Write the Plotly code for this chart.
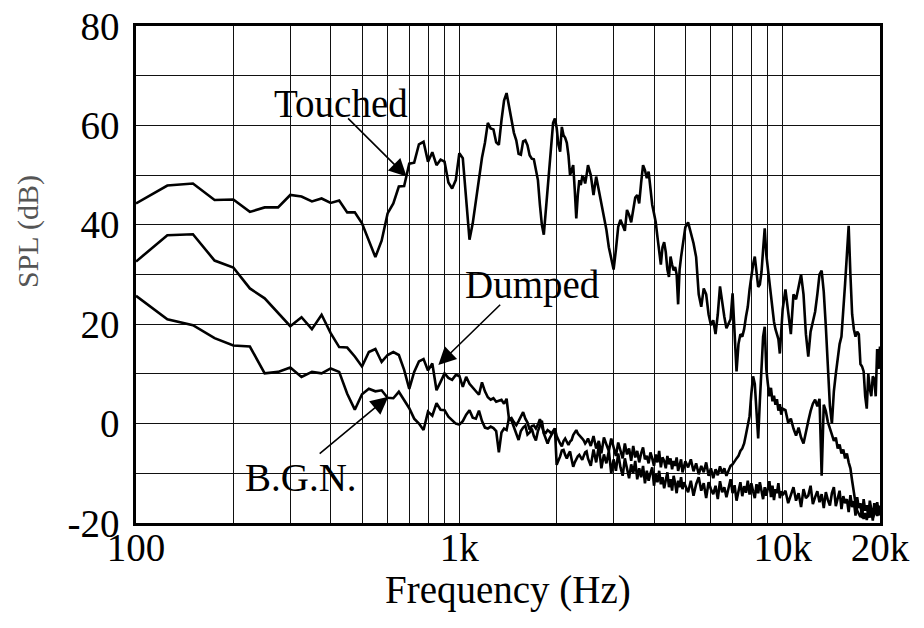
import numpy as np
import plotly.graph_objects as go

# Frequency blocks (Hz) for the readings below: each block holds evenly spaced samples
band_edges = [(100, 1000), (1025, 2500), (2550, 5000), (5100, 10000), (10200, 20000)]

# ---- Touched string (SPL, dB) ----
touched_a = [44.3, 47.9, 48.3, 45.0, 45.1, 42.6, 43.5, 43.5, 46.0, 45.7, 44.7, 45.3, 44.4,
             44.9, 42.5, 42.5, 40.3, 37.0, 33.5, 36.8, 42.3, 44.3, 47.7, 47.8, 52.3, 52.5,
             56.2, 56.7, 52.7, 54.6, 52.0, 53.1, 52.7, 48.5, 47.3, 49.0, 54.4]
touched_b = [53.4, 45.0, 37.0, 40.3, 45.0, 49.5, 53.5, 56.5, 60.5, 59.4, 59.2, 56.6, 56.1,
             61.0, 65.0, 66.5, 63.5, 61.0, 58.5, 57.0, 54.3, 54.1, 56.8, 57.0, 56.0, 54.0,
             53.3, 53.2, 51.0, 49.0, 44.0, 40.0, 38.0, 42.5, 48.5, 52.5, 57.0, 60.5, 61.4,
             59.5, 56.1, 54.7, 59.7, 58.0, 57.5, 56.5, 54.0, 50.0, 51.0, 52.0, 47.0, 41.3,
             46.0, 49.0, 48.0, 49.7, 49.5, 48.3, 50.0, 52.0]
touched_c = [50.0, 46.0, 49.7, 47.0, 43.6, 41.6, 39.0, 35.5, 32.9, 31.0, 35.0, 39.6, 41.0,
             40.0, 38.8, 43.0, 42.0, 40.5, 43.0, 45.5, 46.0, 44.3, 48.5, 52.0, 51.0, 49.4,
             50.7, 46.5, 44.0, 42.3, 40.5, 37.5, 34.0, 32.0, 35.5, 36.5, 34.5, 31.0, 29.5,
             33.6, 32.0, 30.8, 31.5, 30.0, 24.0, 31.0, 33.5, 35.5, 37.5, 39.5]
touched_d = [40.5, 38.5, 36.3, 33.5, 26.0, 23.5, 27.2, 26.0, 22.0, 19.8, 20.8, 18.0, 22.0,
             27.6, 24.0, 21.5, 19.2, 20.0, 21.0, 26.2, 19.0, 10.5, 16.0, 18.0, 17.5, 19.0,
             21.5, 23.5, 27.0, 29.6, 32.0, 33.6, 30.5, 27.5, 28.0, 30.5, 35.0, 39.3, 34.0,
             31.0, 28.0, 26.0, 22.0, 20.5, 19.0, 18.2, 17.0, 14.1, 19.5, 23.0]
touched_e = [27.0, 22.0, 18.0, 26.0, 25.0, 27.5, 30.0, 26.0, 18.0, 13.5, 18.5, 20.5, 22.5,
             26.0, 30.0, 30.8, 26.5, 19.5, 11.0, 3.5, 0.0, 6.5, 10.0, 13.5, 16.0, 17.5,
             22.0, 28.2, 34.0, 39.8, 30.0, 22.0, 19.0, 17.5, 18.5, 18.0, 12.0, 11.5, 10.5,
             5.5, 3.0, 10.0, 7.0, 5.5, 9.5, 9.0, 5.5, 15.0, 11.0, 15.5]

# ---- Dumped string ----
dumped_a = [32.6, 37.9, 38.1, 32.8, 31.4, 27.2, 25.2, 22.2, 19.6, 21.4, 19.0, 21.9, 18.2,
            15.4, 15.3, 13.5, 11.5, 14.4, 15.0, 12.4, 13.8, 14.4, 13.8, 10.8, 7.0, 10.4,
            12.5, 13.0, 10.7, 12.1, 6.7, 8.4, 10.1, 9.2, 8.8, 9.8, 9.6]
dumped_b = [7.4, 9.4, 8.0, 7.3, 6.5, 5.8, 8.3, 6.5, 5.3, 4.8, 5.1, 4.4, 4.6, 4.8, 4.0, 5.0,
            0.8, 1.1, 0.3, -0.3, 0.5, 1.5, 2.3, 1.0, 0.2, -1.2, -0.5, -0.4, -1.0, -0.2, 0.9,
            -0.5, -1.8, -1.9, -1.3, -1.6, -2.0, -1.5, -1.0, -2.5, -3.4, -4.0, -4.6, -3.5,
            -3.0, -3.8, -4.3, -3.6, -3.3, -2.3, -1.8, -1.3, -2.0, -2.3, -2.6, -3.0, -3.4,
            -4.0, -3.6, -3.0]
dumped_c = [-4.5, -2.5, -5.0, -3.5, -6.0, -2.8, -4.2, -5.5, -3.0, -4.8, -6.5, -3.8, -5.2,
            -7.0, -4.0, -6.2, -5.0, -7.5, -4.5, -6.8, -5.5, -7.8, -6.0, -4.8, -7.2, -6.5,
            -8.0, -5.8, -7.0, -8.5, -6.2, -7.8, -5.5, -8.8, -6.8, -7.5, -9.0, -6.5, -8.2,
            -7.0, -9.2, -7.5, -8.5, -6.8, -9.5, -8.0, -7.2, -9.8, -8.3, -7.6]
dumped_d = [-8.8, -7.2, -9.6, -8.0, -10.2, -8.5, -9.8, -7.8, -10.5, -9.0, -11.0, -9.2,
            -10.4, -8.6, -10.0, -9.0, -10.5, -9.3, -8.5, -8.2, -7.5, -7.0, -6.5, -5.5, -5.0,
            -4.0, -2.2, -0.5, 1.5, 6.0, 9.5, 8.0, 2.5, -3.0, 4.5, 12.0, 17.5, 19.5, 11.0,
            8.0, 5.5, 7.2, 4.5, 5.6, 3.8, 4.9, 2.6, 3.9, 1.8, 3.0]
dumped_e = [2.7, 0.2, 1.0, -1.0, -2.4, -0.8, -2.8, -4.0, -1.5, 0.5, 2.5, 4.0, 4.8, 3.5,
            5.0, -10.5, 3.8, 2.5, 0.3, -1.2, -2.2, -3.5, -2.8, -5.0, -4.2, -6.0, -5.2, -7.0,
            -6.0, -7.8, -9.0, -11.5, -14.0, -16.0, -17.5, -18.2, -18.8, -17.6, -19.2, -18.0,
            -19.4, -17.8, -18.9, -17.5, -19.0, -18.2, -17.0, -18.6, -17.4, -18.5]

# ---- Background noise ----
bgn_a = [25.7, 21.0, 19.8, 17.2, 15.7, 15.5, 10.1, 10.4, 11.3, 9.4, 10.4, 10.1, 11.1, 10.4,
         6.0, 2.8, 5.9, 7.0, 6.5, 6.7, 5.2, 5.1, 6.4, 4.8, 3.1, 1.0, 0.0, -1.3, 2.4, 1.6,
         4.1, 2.8, 2.7, 1.4, 0.7, 0.0, -0.2]
bgn_b = [0.5, 1.8, 2.7, 1.2, 1.0, 2.6, 0.5, -0.8, -1.0, -0.6, -0.9, -1.5, -5.8, -1.8, -1.0,
         -1.3, 1.2, 0.6, -0.8, -2.1, -3.3, -1.5, -0.8, -0.4, -2.2, -1.8, -1.0, -2.5, -3.4,
         -1.5, -0.2, 0.6, -2.0, -3.2, -4.0, -3.0, -2.4, -1.6, -1.0, -8.3, -7.5, -6.6, -5.4,
         -5.3, -6.3, -7.0, -6.2, -5.6, -7.2, -8.7, -7.8, -7.0, -6.6, -6.3, -6.8, -7.3,
         -6.5, -5.8, -5.6, -7.0]
bgn_c = [-8.5, -5.2, -7.8, -4.5, -9.0, -6.2, -8.0, -5.5, -10.0, -7.2,
         -9.5, -6.0, -8.8, -10.5, -7.0, -9.2, -11.0, -8.2, -10.0, -7.5,
         -11.2, -9.0, -10.8, -8.5, -12.0, -9.5, -11.5, -10.0, -8.8, -12.5,
         -10.2, -11.8, -9.5, -12.2, -10.8, -13.0, -11.0, -9.8, -12.8, -11.2,
         -13.5, -10.5, -12.0, -14.0, -11.5, -12.8, -10.8, -13.2, -11.8, -12.5]
bgn_d = [-13.8, -11.5, -14.5, -12.2, -10.8, -13.5, -12.0, -15.0, -11.8, -13.2,
         -14.2, -12.5, -15.2, -11.6, -13.8, -12.8, -14.8, -13.0, -11.2, -14.0,
         -12.4, -15.5, -13.2, -11.8, -14.6, -12.6, -13.9, -11.5, -14.3, -12.0,
         -13.6, -15.0, -12.2, -14.0, -11.8, -13.4, -15.2, -12.8, -14.5, -13.0,
         -11.6, -14.8, -12.5, -15.4, -13.2, -14.0, -12.0, -15.0, -13.6, -14.4]
bgn_e = [-13.5, -16.0, -14.2, -12.8, -15.5, -14.0, -16.8, -13.2, -15.0, -14.5,
         -12.5, -16.2, -14.8, -13.6, -15.8, -14.2, -17.0, -13.8, -15.4, -16.5,
         -14.0, -12.8, -16.6, -15.0, -13.5, -17.2, -14.6, -16.0, -15.2, -17.8,
         -14.4, -16.8, -15.6, -18.5, -14.8, -17.0, -16.0, -19.0, -15.2, -17.5,
         -16.4, -18.8, -15.5, -17.2, -19.5, -16.0, -18.0, -15.8, -17.6, -16.5]

# Axis ticks / grid
x_grid_hz = [100, 200, 300, 400, 500, 600, 700, 800, 900,
             1000, 2000, 3000, 4000, 5000, 6000, 7000, 8000, 9000, 10000, 20000]
x_tick_text = {100: "100", 1000: "1k", 10000: "10k", 20000: "20k"}
y_grid_db = list(range(-20, 81, 10))
y_tick_text = {-20: "-20", 0: "0", 20: "20", 40: "40", 60: "60", 80: "80"}


def spectrum(blocks):
    hz = np.concatenate([np.linspace(lo, hi, len(v)) for (lo, hi), v in zip(band_edges, blocks)])
    db = np.concatenate([np.asarray(v, dtype=float) for v in blocks])
    return hz, db


curves = {
    "Touched": [touched_a, touched_b, touched_c, touched_d, touched_e],
    "Dumped": [dumped_a, dumped_b, dumped_c, dumped_d, dumped_e],
    "B.G.N.": [bgn_a, bgn_b, bgn_c, bgn_d, bgn_e],
}

FONT = "Liberation Serif, Times New Roman, serif"
TEXT_SIZE = 39

fig = go.Figure()
for name, blocks in curves.items():
    hz, db = spectrum(blocks)
    fig.add_trace(go.Scatter(x=hz, y=db, mode="lines", name=name,
                             line=dict(color="black", width=2.6)))

lg = np.log10


def label_arrow(text, text_hz, text_db, tail_hz, tail_db, tip_hz, tip_db):
    fig.add_annotation(x=lg(text_hz), y=text_db, text=text, showarrow=False,
                       font=dict(family=FONT, size=TEXT_SIZE, color="black"),
                       xanchor="center", yanchor="middle")
    fig.add_annotation(x=lg(tip_hz), y=tip_db, ax=lg(tail_hz), ay=tail_db,
                       axref="x", ayref="y", text="", showarrow=True,
                       arrowhead=2, arrowsize=2.2, arrowwidth=1.6, arrowcolor="black",
                       standoff=0, startstandoff=0)


label_arrow("Touched", 430, 64.5, 448, 61.7, 687, 49.7)
label_arrow("Dumped", 1679, 27.9, 1352, 24.2, 861, 11.8)
label_arrow("B.G.N.", 324, -10.9, 366, -6.3, 603, 5.4)

# Axis titles
fig.add_annotation(xref="paper", yref="paper", x=0.5, y=0, yshift=-67,
                   text="Frequency (Hz)", showarrow=False,
                   font=dict(family=FONT, size=TEXT_SIZE, color="black"),
                   xanchor="center", yanchor="middle")
fig.add_annotation(xref="paper", yref="paper", x=0, y=0.5855, xshift=-108,
                   text="SPL (dB)", textangle=-90, showarrow=False,
                   font=dict(family=FONT, size=30, color="#555555"),
                   xanchor="center", yanchor="middle")

axis_common = dict(showgrid=True, gridcolor="#111111", gridwidth=1,
                   showline=True, linecolor="black", linewidth=2.5, mirror=True,
                   ticks="", zeroline=False, automargin=False,
                   tickfont=dict(family=FONT, size=TEXT_SIZE, color="black"))

fig.update_xaxes(type="log", range=[2, lg(20000)],
                 tickmode="array", tickvals=x_grid_hz,
                 ticktext=[x_tick_text.get(v, "") for v in x_grid_hz],
                 ticklabelstandoff=-12, **axis_common)
fig.update_yaxes(range=[-20, 80], tickmode="array", tickvals=y_grid_db,
                 ticktext=[y_tick_text.get(v, "") for v in y_grid_db],
                 ticklabelstandoff=6, **axis_common)

fig.update_layout(width=924, height=628, showlegend=False,
                  margin=dict(l=136, r=44, t=26, b=105),
                  paper_bgcolor="white", plot_bgcolor="white",
                  font=dict(family=FONT, color="black"))

fig.write_html("out.html")
